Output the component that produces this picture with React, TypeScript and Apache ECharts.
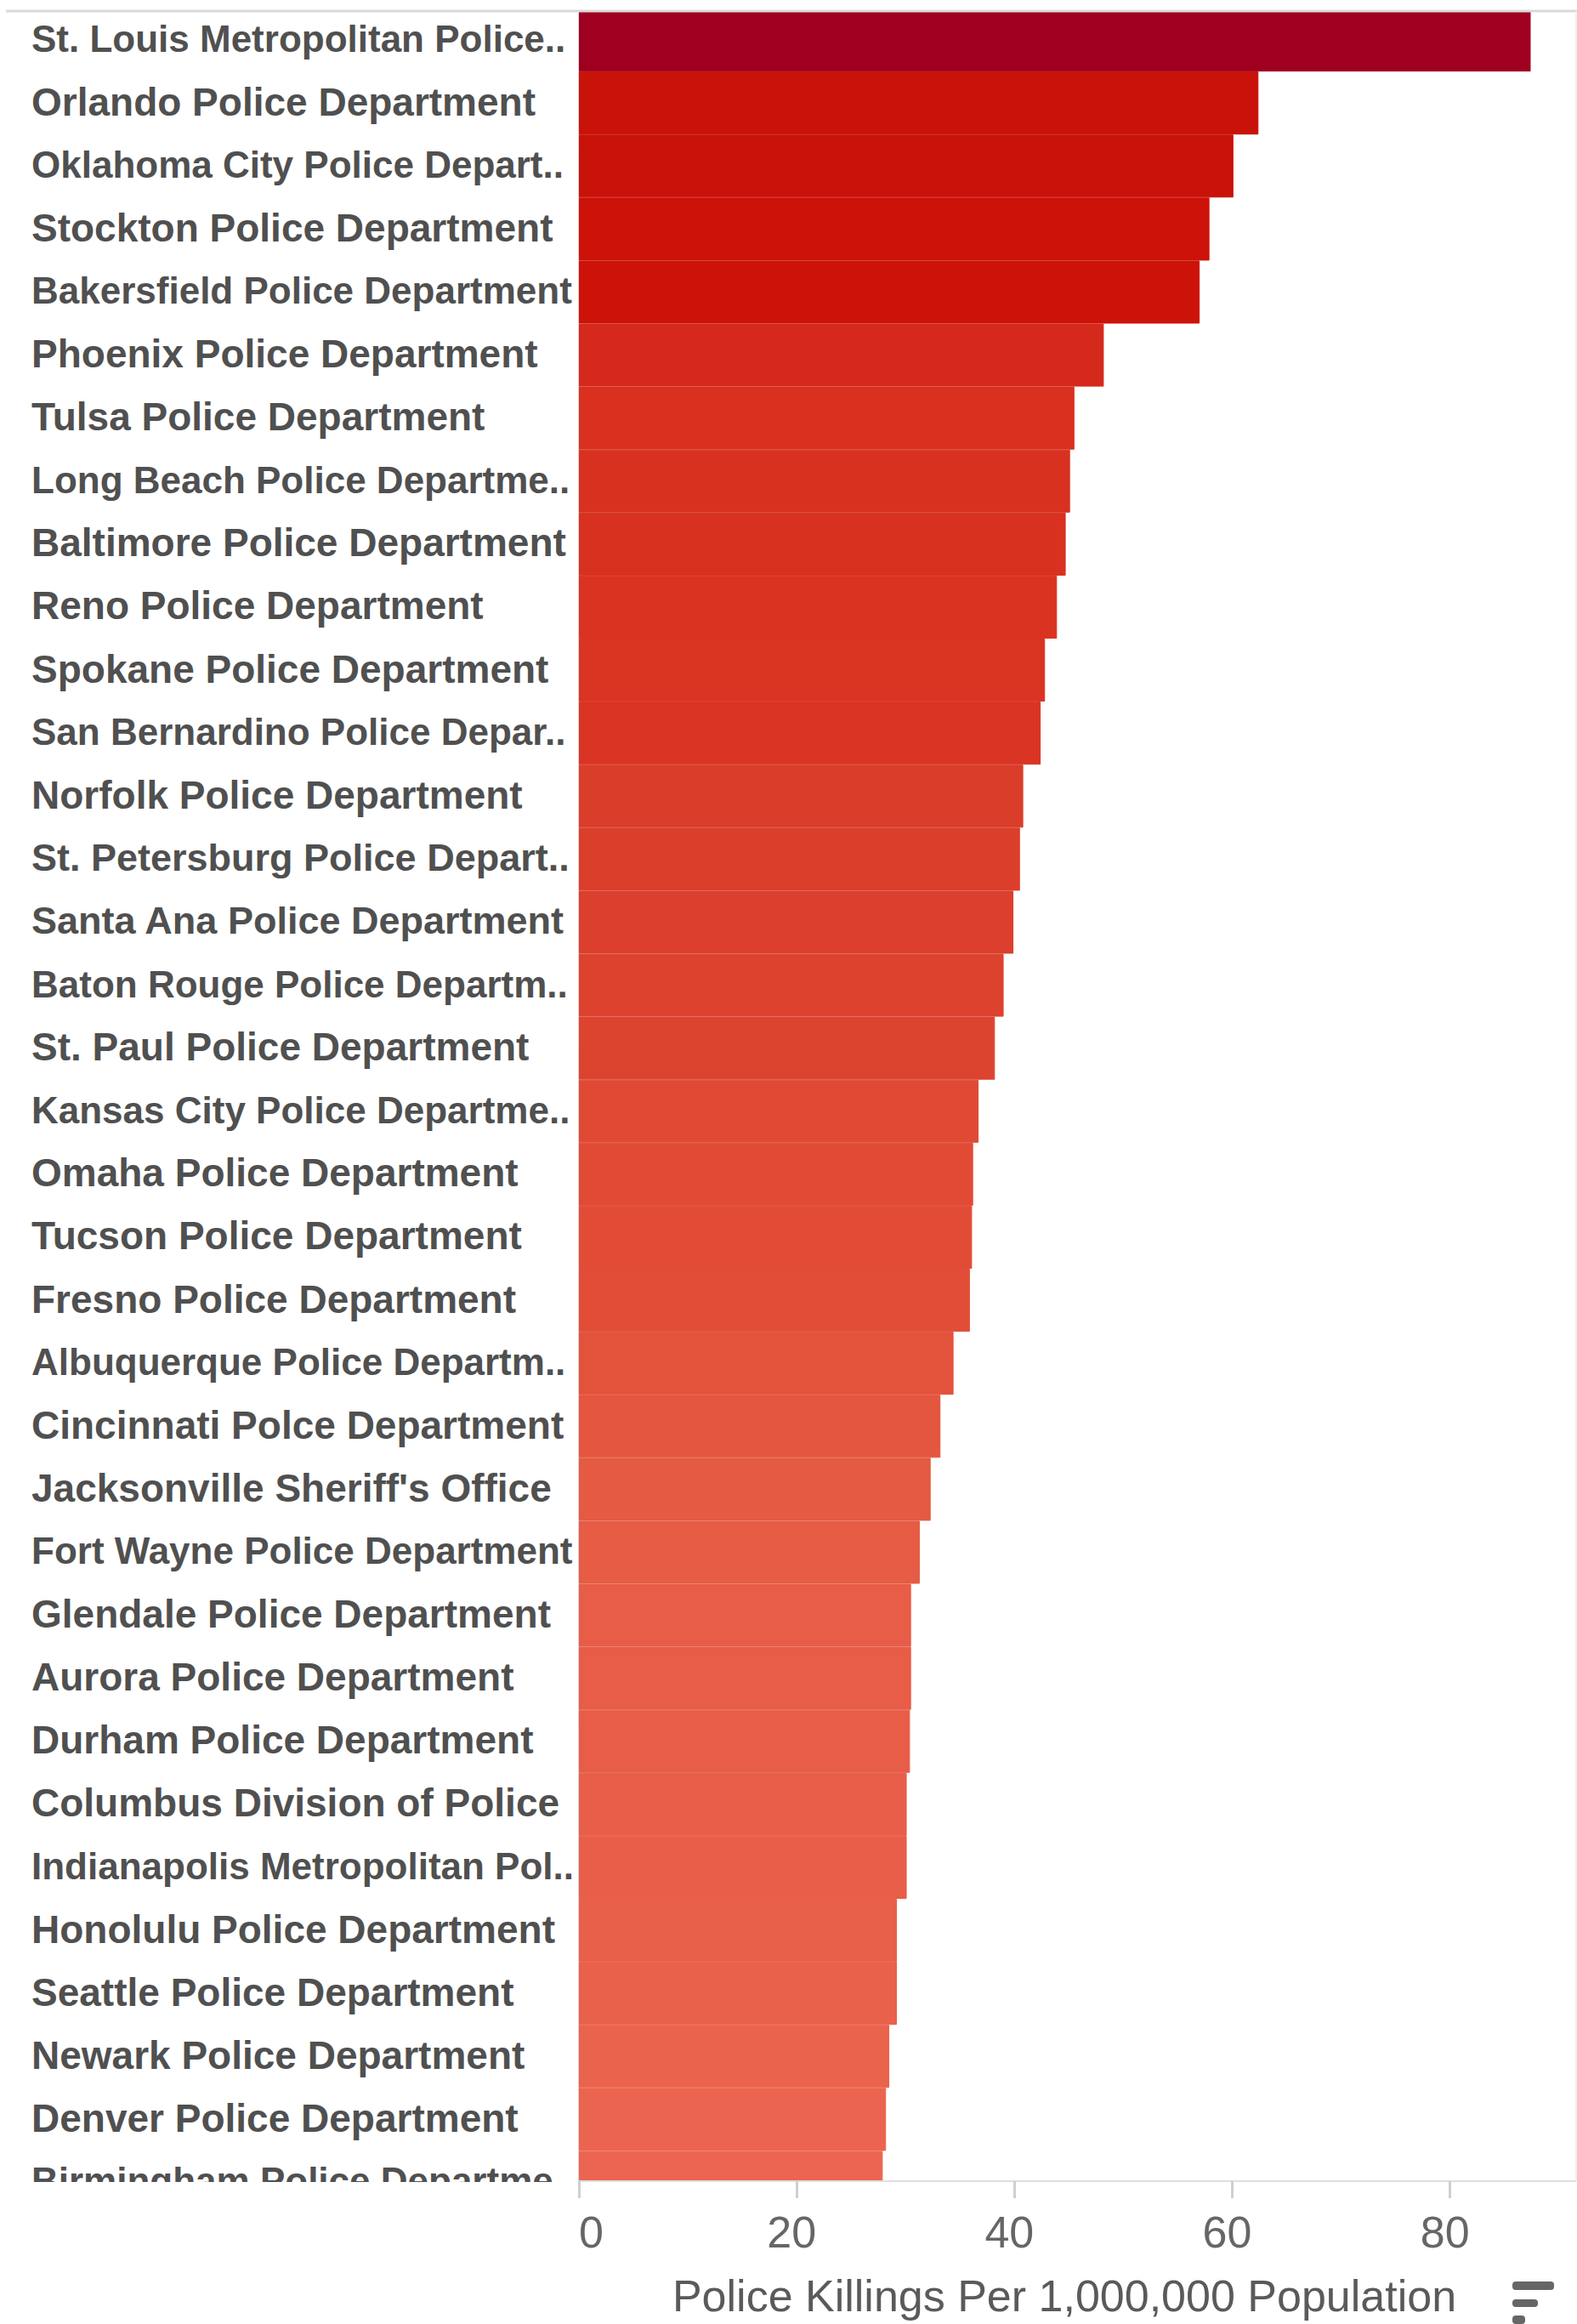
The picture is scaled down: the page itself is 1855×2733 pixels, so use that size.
import React, { useEffect, useRef } from "react";
import * as echarts from "echarts";

const categories: string[] = [
  "St. Louis Metropolitan Police..",
  "Orlando Police Department",
  "Oklahoma City Police Depart..",
  "Stockton Police Department",
  "Bakersfield Police Department",
  "Phoenix Police Department",
  "Tulsa Police Department",
  "Long Beach Police Departme..",
  "Baltimore Police Department",
  "Reno Police Department",
  "Spokane Police Department",
  "San Bernardino Police Depar..",
  "Norfolk Police Department",
  "St. Petersburg Police Depart..",
  "Santa Ana Police Department",
  "Baton Rouge Police Departm..",
  "St. Paul Police Department",
  "Kansas City Police Departme..",
  "Omaha Police Department",
  "Tucson Police Department",
  "Fresno Police Department",
  "Albuquerque Police Departm..",
  "Cincinnati Polce Department",
  "Jacksonville Sheriff's Office",
  "Fort Wayne Police Department",
  "Glendale Police Department",
  "Aurora Police Department",
  "Durham Police Department",
  "Columbus Division of Police",
  "Indianapolis Metropolitan Pol..",
  "Honolulu Police Department",
  "Seattle Police Department",
  "Newark Police Department",
  "Denver Police Department",
  "Birmingham Police Departme..",
];

const killingsPerMillion: number[] = [
  87.4, 62.4, 60.1, 57.9, 57.0, 48.2, 45.5, 45.1, 44.7, 43.9, 42.8, 42.4,
  40.8, 40.5, 39.9, 39.0, 38.2, 36.7, 36.2, 36.1, 35.9, 34.4, 33.2, 32.3,
  31.3, 30.5, 30.5, 30.4, 30.1, 30.1, 29.2, 29.2, 28.5, 28.2, 27.9,
];

const barColors: string[] = [
  "#A00020", "#C8120A", "#C9120A", "#CC1209", "#CD1309", "#D4291C",
  "#D9301F", "#D93120", "#D83120", "#DA3322", "#DA3423", "#DA3524",
  "#DB3D2B", "#DC3E2C", "#DC3F2D", "#DD422F", "#DD4430", "#E04A34",
  "#E14B36", "#E24C37", "#E24D38", "#E3533C", "#E4563F", "#E55A42",
  "#E65C45", "#E75D48", "#E75D48", "#E75D48", "#E85E48", "#E85E48",
  "#E9604A", "#E9614B", "#EA634D", "#EB644F", "#EC6552",
];

const xTicks: number[] = [0, 20, 40, 60, 80];
const xTitle = "Police Killings Per 1,000,000 Population";

const W = 1855;
const H = 2733;
const GRID_LEFT = 681;
const GRID_TOP = 10;
const ROW_H = 74.1;
const AXIS_Y = 2565;
const LABEL_X = 37;
const LABEL_FONT = "'Liberation Sans', Arial, Helvetica, sans-serif";

export default function App() {
  const ref = useRef<HTMLDivElement>(null);

  useEffect(() => {
    if (!ref.current) return;
    const chart = echarts.init(ref.current, null, { renderer: "svg" });
    const gridHeight = ROW_H * categories.length;
    const gridBottomY = GRID_TOP + gridHeight;
    const font = LABEL_FONT;

    const canvas = document.createElement("canvas");
    const ctx = canvas.getContext("2d");
    const maxLabelWidth = GRID_LEFT - LABEL_X - 5;
    const fits = (text: string, size: number) => {
      if (!ctx) return true;
      ctx.font = `bold ${size}px ${LABEL_FONT}`;
      return ctx.measureText(text).width <= maxLabelWidth;
    };

    chart.setOption({
      animation: false,
      backgroundColor: "#ffffff",
      grid: {
        left: GRID_LEFT,
        top: GRID_TOP,
        width: 1172,
        height: gridHeight,
        containLabel: false,
        outerBoundsMode: "none",
      },
      xAxis: {
        type: "value",
        min: 0,
        max: 91.5,
        position: "bottom",
        offset: AXIS_Y - gridBottomY,
        z: 60,
        splitLine: { show: false },
        axisLine: { show: true, lineStyle: { color: "#dedede", width: 2 } },
        axisTick: {
          show: true,
          length: 20,
          customValues: xTicks,
          lineStyle: { color: "#cfcfcf", width: 3 },
        },
        axisLabel: {
          customValues: xTicks,
          fontFamily: font,
          fontSize: 52,
          color: "#666666",
          margin: 34,
          alignMinLabel: "left",
          padding: [0, 12, 0, 0],
        },
        name: xTitle,
        nameLocation: "middle",
        nameGap: 109,
        nameTextStyle: {
          fontFamily: font,
          fontSize: 52,
          color: "#5a5a5a",
          padding: [0, 30, 0, 0],
        },
      },
      yAxis: {
        type: "category",
        inverse: true,
        data: categories,
        z: 0,
        axisLine: { show: true, lineStyle: { color: "#d4d4d4", width: 2 } },
        axisTick: { show: false },
        splitLine: { show: false },
        axisLabel: {
          interval: 0,
          align: "left",
          margin: GRID_LEFT - LABEL_X,
          fontFamily: font,
          fontWeight: "bold",
          fontSize: 46,
          color: "#505050",
          padding: [0, 0, 3, 0],
          formatter: (v: string) => {
            if (fits(v, 46)) return `{a|${v}}`;
            if (fits(v, 45)) return `{b|${v}}`;
            return `{c|${v}}`;
          },
          rich: {
            a: { fontFamily: font, fontWeight: "bold", fontSize: 46, color: "#505050" },
            b: { fontFamily: font, fontWeight: "bold", fontSize: 45, color: "#505050" },
            c: { fontFamily: font, fontWeight: "bold", fontSize: 44, color: "#505050" },
          },
        },
      },
      series: [
        {
          type: "bar",
          z: 2,
          barCategoryGap: "0%",
          data: killingsPerMillion.map((v, i) => ({
            value: v,
            itemStyle: { color: barColors[i], borderColor: barColors[i], borderWidth: 1 },
          })),
        },
      ],
      graphic: [
        {
          type: "rect",
          z: 50,
          silent: true,
          shape: { x: 0, y: AXIS_Y + 1, width: W, height: 60 },
          style: { fill: "#ffffff" },
        },
        {
          type: "rect",
          z: 50,
          silent: true,
          shape: { x: 0, y: 0, width: W, height: 14 },
          style: { fill: "#ffffff" },
        },
        {
          type: "line",
          z: 51,
          silent: true,
          shape: { x1: 7, y1: 13, x2: W, y2: 13 },
          style: { stroke: "#d9d9d9", lineWidth: 3 },
        },
        {
          type: "line",
          z: 51,
          silent: true,
          shape: { x1: 1854, y1: 13, x2: 1854, y2: AXIS_Y },
          style: { stroke: "#efefef", lineWidth: 2 },
        },
        {
          type: "rect",
          z: 51,
          silent: true,
          shape: { x: 1779, y: 2683, width: 49, height: 10, r: 4 },
          style: { fill: "#666666" },
        },
        {
          type: "rect",
          z: 51,
          silent: true,
          shape: { x: 1779, y: 2704, width: 30, height: 9, r: 4 },
          style: { fill: "#666666" },
        },
        {
          type: "rect",
          z: 51,
          silent: true,
          shape: { x: 1779, y: 2723, width: 15, height: 10, r: 4 },
          style: { fill: "#666666" },
        },
      ],
    });

    return () => {
      chart.dispose();
    };
  }, []);

  return (
    <div
      ref={ref}
      style={{ position: "fixed", left: 0, top: 0, width: W, height: H, background: "#fff" }}
    />
  );
}
